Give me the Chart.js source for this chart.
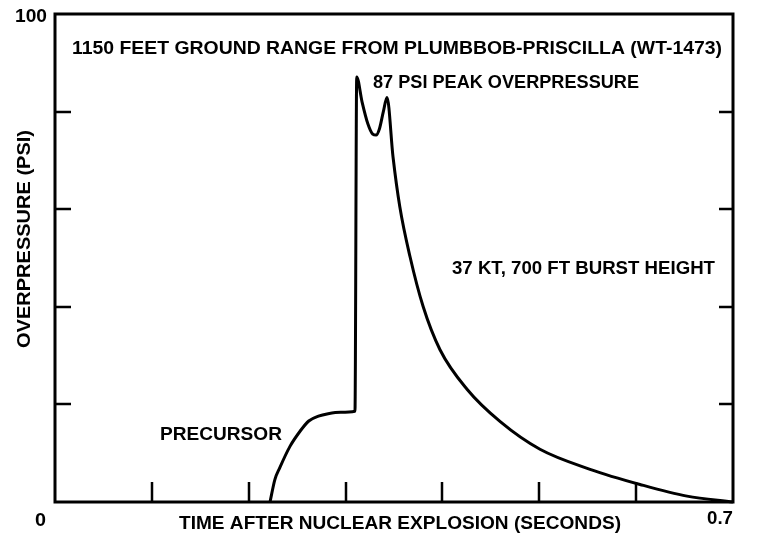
<!DOCTYPE html>
<html lang="en">
  <head>
    <meta charset="utf-8" />
    <script src="https://cdn.jsdelivr.net/npm/chart.js@4"></script>
    <style>
      body {
        margin: 0;
        background: #fff;
      }
      .wrap {
        width: 758px;
        height: 542px;
      }
    </style>
    <title>Plumbbob-Priscilla overpressure</title>
  </head>

  <body>
    <div class="wrap">
      <canvas id="myChart" width="758" height="542"></canvas>
    </div>

    <script>
      // time (s) and overpressure (psi)
      const timeSec = [
        0.222, 0.227, 0.232, 0.2426, 0.253, 0.262, 0.272, 0.282, 0.295, 0.3097,
        0.3115, 0.317, 0.323, 0.328, 0.3315, 0.335, 0.339, 0.3428, 0.349,
        0.356, 0.3665, 0.38, 0.3975, 0.4254, 0.46, 0.5007, 0.5524,
        0.604, 0.6525, 0.7,
      ];
      const overpressurePsi = [
        0, 4.6, 7, 11.4, 14.5, 16.6, 17.6, 18.1, 18.4, 18.6,
        87.1, 82, 77.5, 75.4, 75.2, 76.5, 80, 82.9, 70.7,
        60.5, 50.3, 40.1, 31.2, 23.1, 16.4, 10.8, 6.7,
        3.6, 1.2, 0,
      ];

      const xTicks = [0.1, 0.2, 0.3, 0.4, 0.5, 0.6];
      const yTicks = [20, 40, 60, 80];
      const xRange = [0, 0.7];
      const yRange = [0, 100];

      const FONT = '"Liberation Sans", Arial, sans-serif';

      // text stretched/squeezed to the width it has in the original
      function drawFit(ctx, text, left, cy, width, size) {
        ctx.save();
        ctx.font = "bold " + size + "px " + FONT;
        ctx.textBaseline = "middle";
        ctx.textAlign = "left";
        const w = ctx.measureText(text).width;
        ctx.translate(left, cy);
        ctx.scale(width / w, 1);
        ctx.fillText(text, 0, 0);
        ctx.restore();
      }

      const frame = {
        id: "frame",
        afterDraw(chart) {
          const ctx = chart.ctx;
          const a = chart.chartArea;
          const xs = chart.scales.x;
          const ys = chart.scales.y;
          ctx.save();
          ctx.strokeStyle = "#000";
          ctx.fillStyle = "#000";
          ctx.lineWidth = 3;
          ctx.strokeRect(a.left, a.top, a.right - a.left, a.bottom - a.top);

          // inner ticks
          ctx.lineWidth = 2.5;
          ctx.beginPath();
          xTicks.forEach((v) => {
            const px = Math.round(xs.getPixelForValue(v));
            ctx.moveTo(px, a.bottom);
            ctx.lineTo(px, a.bottom - 20);
          });
          yTicks.forEach((v) => {
            const py = Math.round(ys.getPixelForValue(v));
            ctx.moveTo(a.left, py);
            ctx.lineTo(a.left + 16, py);
            ctx.moveTo(a.right, py);
            ctx.lineTo(a.right - 14, py);
          });
          ctx.stroke();

          // tick labels
          drawFit(ctx, "100", 15, ys.getPixelForValue(100) + 3, 32, 19);
          drawFit(ctx, "0", 35, 521, 11, 19);
          drawFit(ctx, "0.7", 707, 519, 26, 19);

          // axis titles
          drawFit(ctx, "TIME AFTER NUCLEAR EXPLOSION (SECONDS)", 179, 524, 442, 18);
          ctx.save();
          ctx.translate(25, 239);
          ctx.rotate(-Math.PI / 2);
          drawFit(ctx, "OVERPRESSURE (PSI)", -109, 0, 218, 18);
          ctx.restore();

          // annotations
          drawFit(ctx, "1150 FEET GROUND RANGE FROM PLUMBBOB-PRISCILLA (WT-1473)", 72, 49, 650, 18);
          drawFit(ctx, "87 PSI PEAK OVERPRESSURE", 373, 83, 266, 18);
          drawFit(ctx, "37 KT, 700 FT BURST HEIGHT", 452, 269, 263, 19);
          drawFit(ctx, "PRECURSOR", 160, 435, 122, 18);
          ctx.restore();
        },
      };

      const points = timeSec.map((t, i) => ({ x: t, y: overpressurePsi[i] }));

      window.myChart = new Chart(document.getElementById("myChart"), {
        type: "scatter",
        plugins: [frame],
        data: {
          datasets: [
            {
              data: points,
              showLine: true,
              borderColor: "#000",
              borderWidth: 3,
              pointRadius: 0,
              cubicInterpolationMode: "monotone",
              clip: false,
            },
          ],
        },
        options: {
          responsive: false,
          animation: false,
          layout: {
            padding: { left: 55, right: 25, top: 14, bottom: 40 },
          },
          plugins: {
            legend: { display: false },
            tooltip: { enabled: false },
          },
          scales: {
            x: { type: "linear", min: xRange[0], max: xRange[1], display: false },
            y: { min: yRange[0], max: yRange[1], display: false },
          },
        },
      });
    </script>
  </body>
</html>
